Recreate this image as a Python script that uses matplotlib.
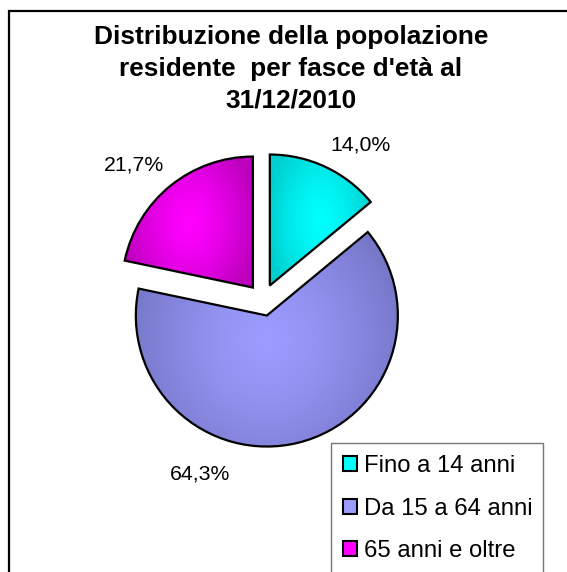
import numpy as np
import matplotlib.pyplot as plt
from matplotlib.patches import Rectangle
from matplotlib.colors import to_rgb

plt.rcParams['font.family'] = ['Liberation Sans', 'DejaVu Sans']

# dati
categorie = ['Fino a 14 anni', 'Da 15 a 64 anni', '65 anni e oltre']
percentuali = [14.0, 64.3, 21.7]
colori_chiari = ['#00FFFF', '#9C9CFF', '#FF00FF']
colori_scuri = ['#00CFCF', '#7676C8', '#BC00BC']
titolo = "Distribuzione della popolazione\nresidente  per fasce d'età al\n31/12/2010"

W, H = 567, 572
fig = plt.figure(figsize=(W / 100, H / 100), dpi=100)
ax = fig.add_axes([0, 0, 1, 1])

# pixel -> data (y verso l'alto)
def py(y):
    return H - y

# explode in unita' dati (pixel)
wedges, _ = ax.pie(percentuali, startangle=90, counterclock=False,
                   center=(263, py(300)), radius=131,
                   explode=[16, 16, 16],
                   wedgeprops=dict(edgecolor='black', linewidth=1.6, zorder=3))

# sfumatura radiale dentro ogni spicchio
for w, c1, c2 in zip(wedges, colori_chiari, colori_scuri):
    v = w.get_path().vertices
    x0, x1 = v[:, 0].min(), v[:, 0].max()
    y0, y1 = v[:, 1].min(), v[:, 1].max()
    xx, yy = np.meshgrid(np.linspace(-1, 1, 200), np.linspace(-1, 1, 200))
    t = np.clip(np.sqrt(xx ** 2 * 0.9 + yy ** 2 * 0.5), 0, 1) ** 1.4
    a, b = np.array(to_rgb(c1)), np.array(to_rgb(c2))
    img = a[None, None, :] * (1 - t[..., None]) + b[None, None, :] * t[..., None]
    im = ax.imshow(img, extent=(x0, x1, y0, y1), origin='lower', zorder=2,
                   interpolation='bilinear', aspect='auto')
    im.set_clip_path(w)
    w.set_facecolor('none')

ax.set_xlim(0, W)
ax.set_ylim(0, H)
ax.set_aspect('auto')
ax.axis('off')

# etichette percentuali
pos_etichette = [(361, 145), (200, 474), (134, 165)]
for p, (lx, ly) in zip(percentuali, pos_etichette):
    ax.text(lx, py(ly), f"{p:.1f}%".replace('.', ','), fontsize=15.3,
            ha='center', va='center')

ax.text(291, py(69), titolo, fontsize=18.9, fontweight='bold',
        ha='center', va='center', linespacing=1.42)

# cornice esterna
ax.add_patch(Rectangle((9, -20), 600, py(11) + 20, fill=False,
                       edgecolor='black', linewidth=1.6, zorder=5))

handles = [plt.Rectangle((0, 0), 1, 1, facecolor=c, edgecolor='black', linewidth=1.5)
           for c in colori_chiari]
leg = fig.legend(handles, categorie, loc='upper left',
                 bbox_to_anchor=(331 / W, 1 - 449 / H, (543 - 331) / W, 0.01),
                 mode='expand', fontsize=17.2, frameon=True, fancybox=False,
                 handlelength=0.6, handleheight=0.6, handletextpad=0.3,
                 labelspacing=0.86, borderpad=0.5, borderaxespad=0)
leg.get_frame().set_edgecolor('#555555')
leg.get_frame().set_linewidth(1.0)

fig.savefig('out.png', dpi=100)
